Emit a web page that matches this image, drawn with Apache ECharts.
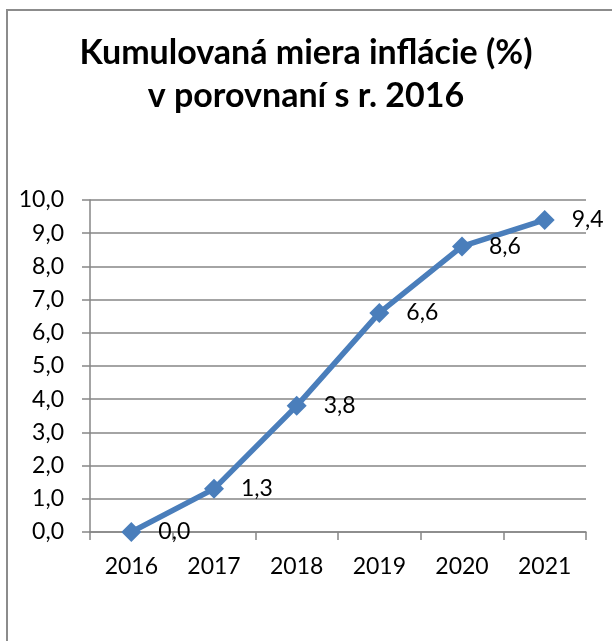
<!DOCTYPE html>
<html>
<head>
<meta charset="utf-8">
<script src="https://cdn.jsdelivr.net/npm/echarts@6/dist/echarts.min.js"></script>
<style>
  html, body { margin: 0; padding: 0; background: #fff; }
  #chart { width: 612px; height: 641px; }
</style>
</head>
<body>
<div id="chart"></div>
<script>
// data
var years = ['2016', '2017', '2018', '2019', '2020', '2021'];
var inflation = [0.0, 1.3, 3.8, 6.6, 8.6, 9.4];
var titleLines = ['Kumulovaná miera inflácie (%)', 'v porovnaní s r. 2016'];

function fmt(v) {
  return Number(v).toFixed(1).replace('.', ',');
}

var chart = echarts.init(document.getElementById('chart'));
chart.setOption({
  animation: false,
  backgroundColor: '#fff',
  textStyle: { fontFamily: 'Lato' },
  graphic: [{
    type: 'rect',
    shape: { x: 7, y: 10, width: 800, height: 800 },
    style: { fill: 'none', stroke: '#8c8c8c', lineWidth: 2 },
    silent: true
  }],
  title: {
    text: titleLines.join('\n'),
    left: 'center',
    top: 27,
    textStyle: {
      fontFamily: 'Lato',
      fontWeight: 'bold',
      fontSize: 34,
      lineHeight: 43,
      color: '#000'
    }
  },
  grid: { left: 90, right: 26, top: 200, bottom: 109 },
  xAxis: {
    type: 'category',
    data: years,
    boundaryGap: true,
    axisLine: { lineStyle: { color: '#868686', width: 1.5 } },
    axisTick: { show: true, length: 8, lineStyle: { color: '#868686', width: 1.5 } },
    axisLabel: { color: '#000', fontSize: 23, margin: 23 }
  },
  yAxis: {
    type: 'value',
    min: 0,
    max: 10,
    interval: 1,
    axisLine: { show: true, lineStyle: { color: '#868686', width: 1.5 } },
    axisTick: { show: true, length: 8, lineStyle: { color: '#868686', width: 1.5 } },
    splitLine: { lineStyle: { color: '#868686', width: 1.5 } },
    axisLabel: { color: '#000', fontSize: 23, margin: 26, formatter: fmt }
  },
  series: [{
    type: 'line',
    data: inflation,
    symbol: 'diamond',
    symbolSize: 20,
    lineStyle: { color: '#4A7EBB', width: 5.5 },
    itemStyle: { color: '#4A7EBB' },
    label: {
      show: true,
      position: 'right',
      distance: 17,
      color: '#000',
      fontSize: 23,
      formatter: function (p) { return fmt(p.value); }
    }
  }]
});
</script>
</body>
</html>
